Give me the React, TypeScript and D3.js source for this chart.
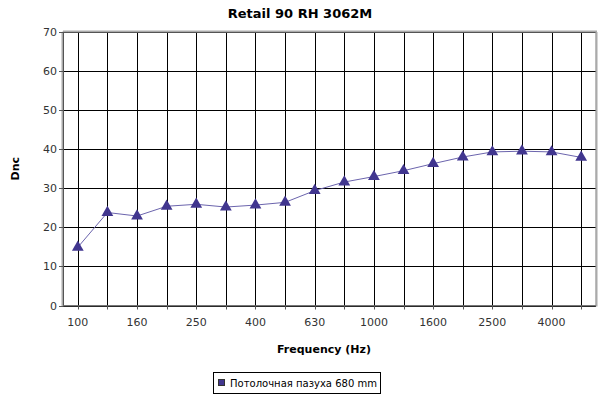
import React from "react";
import * as d3 from "d3";

const categories = ["100","125","160","200","250","315","400","500","630","800","1000","1250","1600","2000","2500","3150","4000","5000"];
const values = [14.9, 23.8, 22.9, 25.4, 25.9, 25.2, 25.7, 26.4, 29.4, 31.6, 33.0, 34.5, 36.3, 38.0, 39.3, 39.5, 39.3, 37.9];
const yTicks = [0, 10, 20, 30, 40, 50, 60, 70];
const labeledCategories = ["100","160","250","400","630","1000","1600","2500","4000"];
const title = "Retail 90 RH 3062M";
const xTitle = "Frequency (Hz)";
const yTitle = "Dnc";
const seriesName = "Потолочная пазуха 680 mm";

export default function App() {
  const W = 600, H = 400;
  const left = 63, right = 596, top = 32, bottom = 305.5;
  const x = d3.scaleBand<string>().domain(categories).range([left, right]).padding(0);
  const y = d3.scaleLinear().domain([0, 70]).range([bottom, top]);
  const cx = (c: string) => (x(c) as number) + x.bandwidth() / 2;
  const line = d3.line<number>().x((_, i) => cx(categories[i])).y(d => y(d));
  const tri = d3.symbol().type(d3.symbolTriangle).size(60)();
  const font = "DejaVu Sans, sans-serif";
  return (
    <svg width={W} height={H} style={{ position: "absolute", left: 0, top: 0, background: "#fff" }} fontFamily={font}>
      <rect x={0} y={0} width={W} height={H} fill="#fff" />
      <text x={300} y={18} textAnchor="middle" fontSize={13} fontWeight="bold">{title}</text>
      <rect x={left} y={top} width={right - left} height={bottom - top} fill="#fff" stroke="#999" strokeWidth={1} />
      {yTicks.map(t => (
        <line key={"h" + t} x1={left} x2={right} y1={Math.round(y(t)) + 0.5} y2={Math.round(y(t)) + 0.5} stroke="#000" strokeWidth={1} />
      ))}
      {categories.map(c => (
        <line key={"v" + c} x1={Math.round(cx(c)) + 0.5} x2={Math.round(cx(c)) + 0.5} y1={top} y2={bottom} stroke="#000" strokeWidth={1} />
      ))}
      <line x1={left - 0.5} x2={left - 0.5} y1={top} y2={bottom + 1} stroke="#aaa" strokeWidth={2} />
      <line x1={right + 0.5} x2={right + 0.5} y1={top} y2={bottom + 1} stroke="#aaa" strokeWidth={2} />
      <line x1={left} x2={right + 1} y1={top - 0.5} y2={top - 0.5} stroke="#aaa" strokeWidth={2} />
      <line x1={left} x2={right} y1={bottom + 0.5} y2={bottom + 0.5} stroke="#555" strokeWidth={1} />
      <line x1={left + 0.5} x2={left + 0.5} y1={top} y2={bottom} stroke="#555" strokeWidth={1} />
      {yTicks.map(t => (
        <g key={"yt" + t}>
          <line x1={left - 4} x2={left} y1={Math.round(y(t)) + 0.5} y2={Math.round(y(t)) + 0.5} stroke="#555" />
          <text x={left - 6} y={y(t) + 4} textAnchor="end" fontSize={11} fill="#333">{t}</text>
        </g>
      ))}
      {categories.map(c => (
        <line key={"xt" + c} x1={Math.round(cx(c)) + 0.5} x2={Math.round(cx(c)) + 0.5} y1={bottom} y2={bottom + 4} stroke="#555" />
      ))}
      {labeledCategories.map(c => (
        <text key={"xl" + c} x={cx(c)} y={326} textAnchor="middle" fontSize={11} fill="#333">{c}</text>
      ))}
      <text x={324} y={353} textAnchor="middle" fontSize={11} fontWeight="bold">{xTitle}</text>
      <text transform={`translate(19,${(top + bottom) / 2}) rotate(-90)`} textAnchor="middle" fontSize={11} fontWeight="bold">{yTitle}</text>
      <path d={line(values) || ""} fill="none" stroke="#6b64ad" strokeWidth={1} />
      {values.map((v, i) => (
        <path key={"p" + i} d={tri || ""} transform={`translate(${cx(categories[i])},${y(v)})`} fill="#41368f" />
      ))}
      <rect x={213.5} y={372.5} width={167} height={21} fill="#fff" stroke="#000" strokeWidth={1} />
      <rect x={218.5} y={379.5} width={6} height={6} fill="#41368f" stroke="#333" strokeWidth={1} />
      <text x={230} y={387} fontSize={10.5} fill="#000" textLength={147} lengthAdjust="spacingAndGlyphs">{seriesName}</text>
    </svg>
  );
}
